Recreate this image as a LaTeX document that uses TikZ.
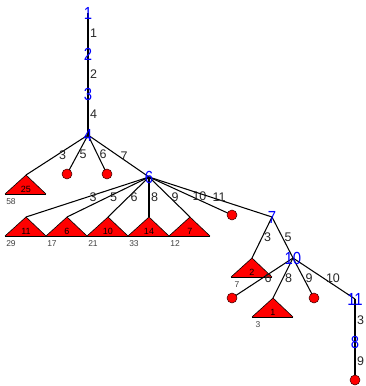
\documentclass[tikz,border=0pt]{standalone}
\usepackage{fontspec}
\setmainfont{Liberation Sans}
\newfontfamily\narrowfont[FakeStretch=0.85]{Liberation Sans}
\begin{document}
\begin{tikzpicture}[x=1pt,y=-1pt,
  edge/.style={draw=black,line width=1.05pt},
  nlabel/.style={text=blue,font=\narrowfont\fontsize{17.5}{17.5}\selectfont,inner sep=0pt},
  elabel/.style={text=black!85,font=\fontsize{12.5}{12.5}\selectfont,inner sep=0pt,anchor=west,xshift=1.5pt},
  leaf/.style={circle,draw=black!80!red,fill=red,line width=0.5pt,minimum size=10pt,inner sep=0pt},
  trilabel/.style={font=\fontsize{9}{9}\selectfont,inner sep=0pt,text=black},
  cntlabel/.style={font=\fontsize{8.5}{8.5}\selectfont,inner sep=0pt,text=black!75}]
\useasboundingbox (0,0) rectangle (365,386);
\newcommand{\subtri}[5]{%
  \coordinate (#1) at (#2,#3);
  \fill[red] (#2,#3) -- ++(-21,19) -- ++(41,0) -- cycle;
  \draw[black,line width=0.6pt] (#2-21,#3+19) -- (#2,#3) -- (#2+20,#3+19);
  \draw[black,line width=1pt] (#2-21,#3+19) -- (#2+20,#3+19);
  \node[trilabel] (#1l) at (#2,#3+14) {#4};
  \node[cntlabel] (#1c) at (#2-15,#3+27) {#5};
}
% node positions
\coordinate (n1) at (88,13);
\coordinate (n2) at (88,54);
\coordinate (n3) at (88,94);
\coordinate (n4) at (88,135);
\coordinate (c1) at (67,174);
\coordinate (c2) at (107,174);
\coordinate (n6) at (149,177);
\coordinate (c3) at (232,215);
\coordinate (n7) at (272,217);
\coordinate (n10) at (293,258);
\coordinate (c4) at (232,298);
\coordinate (c5) at (314,298);
\coordinate (n11) at (355,299);
\coordinate (n8) at (355,342);
\coordinate (c6) at (355,380);
% subtrees
\subtri{t25}{26}{175}{25}{58}
\subtri{t11}{26}{217}{11}{29}
\subtri{t6}{67}{217}{6}{17}
\subtri{t10}{108}{217}{10}{21}
\subtri{t14}{149}{217}{14}{33}
\subtri{t7}{190}{217}{7}{12}
\subtri{t2}{252}{258}{2}{7}
\subtri{t1}{273}{298}{1}{3}
% edges
\draw[edge] (n1) -- node[elabel] {1} (n2);
\draw[edge] (n2) -- node[elabel] {2} (n3);
\draw[edge] (n3) -- node[elabel] {4} (n4);
\draw[edge] (n4) -- node[elabel] {3} (t25);
\draw[edge] (n4) -- node[elabel] {5} (c1);
\draw[edge] (n4) -- node[elabel] {6} (c2);
\draw[edge] (n4) -- node[elabel] {7} (n6);
\draw[edge] (n6) -- node[elabel] {3} (t11);
\draw[edge] (n6) -- node[elabel] {5} (t6);
\draw[edge] (n6) -- node[elabel] {6} (t10);
\draw[edge] (n6) -- node[elabel] {8} (t14);
\draw[edge] (n6) -- node[elabel] {9} (t7);
\draw[edge] (n6) -- node[elabel] {10} (c3);
\draw[edge] (n6) -- node[elabel] {11} (n7);
\draw[edge] (n7) -- node[elabel] {3} (t2);
\draw[edge] (n7) -- node[elabel] {5} (n10);
\draw[edge] (n10) -- node[elabel] {6} (c4);
\draw[edge] (n10) -- node[elabel] {8} (t1);
\draw[edge] (n10) -- node[elabel] {9} (c5);
\draw[edge] (n10) -- node[elabel] {10} (n11);
\draw[edge] (n11) -- node[elabel] {3} (n8);
\draw[edge] (n8) -- node[elabel] {9} (c6);
% leaves
\foreach \c in {c1,c2,c3,c4,c5,c6} \node[leaf] (\c l) at (\c) {};
% node labels
\node[nlabel] (n1l) at (n1) {1};
\node[nlabel] (n2l) at (n2) {2};
\node[nlabel] (n3l) at (n3) {3};
\node[nlabel] (n4l) at (n4) {4};
\node[nlabel] (n6l) at (n6) {6};
\node[nlabel] (n7l) at (n7) {7};
\node[nlabel] (n10l) at (n10) {10};
\node[nlabel] (n11l) at (n11) {11};
\node[nlabel] (n8l) at (n8) {8};
\end{tikzpicture}
\end{document}
